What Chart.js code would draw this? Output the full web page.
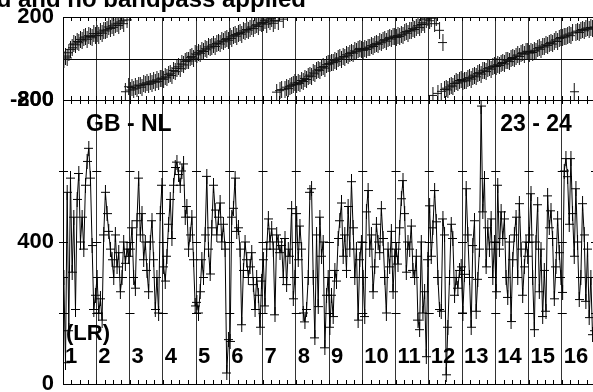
<!DOCTYPE html>
<html>
<head>
<meta charset="utf-8">
<script src="https://cdn.jsdelivr.net/npm/chart.js@4.4.1/dist/chart.umd.min.js"></script>
<style>
html,body{margin:0;padding:0;background:#fff;overflow:hidden;}
canvas{display:block;}
</style>
</head>
<body>
<canvas id="chart" width="600" height="392"></canvas>
<script>
const TITLE = "Calibrated and no bandpass applied";
const BASELINE = "GB - NL";
const ANTENNAS = "23 - 24";
const STOKES = "(LR)";
const ifLabels = ["1","2","3","4","5","6","7","8","9","10","11","12","13","14","15","16"];
const chansPerIF = 20;
const ampTicks = [0, 400, 800];
const ampMarks = [200, 400, 600];
const phaseTicks = [-200, 200];

// amplitude, 20 channels per IF
const amplitude = [
300,60,540,150,580,315,470,210,520,593,400,470,380,560,627,664,580,390,210,250,
300,200,240,180,420,540,480,430,380,350,300,420,330,370,260,300,400,340,380,360,
380,440,300,270,460,580,420,480,350,400,320,260,400,460,350,210,300,200,480,560,
330,290,360,450,520,410,560,610,625,590,560,600,620,470,500,380,420,470,350,220,
230,200,260,350,300,420,585,380,310,440,560,490,420,470,510,400,450,380,31,125,
120,470,495,580,430,440,380,167,320,400,350,300,330,370,280,210,300,250,160,290,
350,220,380,465,400,437,380,195,420,400,370,390,300,410,280,380,360,494,240,300,
480,350,445,380,200,175,210,300,540,550,300,130,420,218,470,360,400,102,250,300,
160,250,190,320,290,410,460,510,360,420,320,500,380,570,440,300,380,180,350,400,
300,190,485,545,380,420,260,330,450,400,370,494,410,300,200,380,330,430,260,360,
380,338,440,522,573,480,315,400,380,445,320,300,360,180,153,400,200,260,77,350,
502,360,440,545,457,300,210,205,465,420,26,160,300,450,410,250,300,270,320,330,
200,309,550,420,300,160,390,460,205,295,380,783,485,579,330,440,380,465,300,400,
260,560,380,485,410,465,300,244,400,176,350,420,470,300,508,380,250,330,400,360,
420,536,300,153,400,505,260,380,190,320,205,530,440,488,410,240,330,465,370,300,
258,600,635,584,450,635,480,360,550,400,238,300,508,420,233,380,187,300,139,150
];

// phase in degrees, 20 channels per IF
const phase = [
-4,12,3,28,44,52,70,66,82,76,92,85,99,104,93,110,106,100,120,112,
120,110,128,122,137,133,141,152,145,158,150,166,170,159,176,182,168,-160,186,-136,
-152,-140,-147,-133,-143,-128,-131,-138,-122,-126,-117,-124,-112,-119,-108,-114,-103,-110,-98,-94,
-100,-88,-93,-78,-71,-82,-58,-63,-47,-40,-49,-26,-31,-15,-8,-12,4,10,2,22,
18,30,25,38,34,47,42,56,51,60,66,58,72,79,70,85,81,92,96,88,
104,97,110,116,108,121,126,118,133,128,140,137,146,152,144,158,163,155,172,168,
174,182,166,186,177,192,170,184,-162,180,-155,-150,190,-147,-138,-145,-134,-129,-124,-118,
-126,-115,-120,-106,-111,-96,-101,-88,-80,-85,-69,-74,-60,-52,-57,-44,-38,-46,-30,-25,
-26,-17,-20,-9,-13,-2,3,-4,10,7,18,13,24,30,26,37,33,44,49,41,
40,48,44,55,51,62,58,67,73,69,80,76,86,91,84,96,102,94,108,104,
102,110,106,117,113,124,130,122,136,133,144,140,151,158,149,164,172,166,190,197,
182,194,-178,168,199,-168,136,-158,77,-149,-143,-151,-137,-128,-133,-120,-113,-118,-106,-101,
-112,-104,-108,-97,-92,-99,-85,-80,-88,-73,-68,-75,-60,-56,-63,-49,-44,-51,-39,-35,
-38,-30,-34,-24,-19,-26,-12,-8,-15,0,5,-2,12,17,10,24,28,21,35,32,
26,33,29,40,36,47,53,45,60,56,66,63,72,78,70,84,90,82,97,101,
100,108,104,113,118,110,123,-160,127,132,125,136,140,134,143,147,141,150,146,152
];

const FONT = "'Liberation Sans', Arial, sans-serif";

function toPoints(vals){
  return vals.map((v,i)=>({
    x: Math.floor(i/chansPerIF) + ((i%chansPerIF)+0.5)/chansPerIF,
    y: v
  }));
}

function crossImage(w,h,color){
  const c=document.createElement("canvas");
  c.width=w; c.height=h;
  const g=c.getContext("2d");
  g.strokeStyle=color; g.lineWidth=1;
  g.beginPath();
  g.moveTo(0,Math.floor(h/2)+0.5); g.lineTo(w,Math.floor(h/2)+0.5);
  g.moveTo(Math.floor(w/2)+0.5,0); g.lineTo(Math.floor(w/2)+0.5,h);
  g.stroke();
  return c;
}

const aipsFrame = {
  id:"aipsFrame",
  beforeDatasetsDraw(chart){
    const {ctx, scales:{x, yA, yP}} = chart;
    const seg=(x1,y1,x2,y2)=>{ctx.beginPath();ctx.moveTo(x1,y1);ctx.lineTo(x2,y2);ctx.stroke();};
    ctx.save();
    ctx.strokeStyle="#000"; ctx.lineWidth=1;
    [yP, yA].forEach(s=>{
      ctx.strokeRect(Math.round(x.left)+0.5, Math.round(s.top)+0.5, Math.round(x.right-x.left), Math.round(s.bottom-s.top));
    });
    const y0=Math.round(yP.getPixelForValue(0))+0.5;
    seg(x.left,y0,x.right,y0);
    for(let q=0;q<=ifLabels.length*4;q++){
      const px=Math.round(x.getPixelForValue(q/4))+0.5;
      [[yP.top,4],[yP.bottom,-4],[yA.top,4],[yA.bottom,-4]].forEach(([py,d])=>seg(px,Math.round(py),px,Math.round(py)+d));
    }
    for(let i=0;i<=ifLabels.length;i++){
      const px=x.getPixelForValue(i);
      ampMarks.forEach(v=>{
        const py=Math.round(yA.getPixelForValue(v))+0.5;
        seg(px-4,py,px+5,py);
      });
    }
    ctx.restore();
  },
  afterDraw(chart){
    const {ctx, scales:{x, yA}} = chart;
    ctx.save();
    ctx.fillStyle="#000";
    ctx.textBaseline="alphabetic";
    ctx.font="bold 24px "+FONT;
    ctx.textAlign="right";
    ctx.fillText(TITLE, 306, 7);
    ctx.font="bold 23px "+FONT;
    ctx.textAlign="left";
    ctx.fillText(BASELINE, x.left+23, yA.top+31);
    ctx.fillText(ANTENNAS, x.getPixelForValue(13)+5, yA.top+31);
    ctx.font="bold 22px "+FONT;
    ctx.fillText(STOKES, x.left+3, yA.bottom-44);
    ifLabels.forEach((lab,i)=>{
      ctx.fillText(lab, x.getPixelForValue(i)+2, yA.bottom-21);
    });
    ctx.restore();
  }
};

const tickFont={family:FONT,size:22,weight:"bold"};
const fitLeft=s=>{s.width=63;s.paddingTop=0;s.paddingBottom=0;};

new Chart(document.getElementById("chart"),{
  type:"scatter",
  data:{
    datasets:[
      {
        label:"Amplitude",
        data:toPoints(amplitude),
        yAxisID:"yA",
        showLine:true,
        borderColor:"#000",
        borderWidth:1,
        pointStyle:crossImage(9,15,"#000"),
        pointRadius:4
      },
      {
        label:"Phase",
        data:toPoints(phase),
        yAxisID:"yP",
        showLine:false,
        pointStyle:crossImage(9,17,"#111"),
        pointRadius:4
      }
    ]
  },
  options:{
    responsive:false,
    animation:false,
    events:[],
    layout:{padding:{top:17,right:4,bottom:8,left:0}},
    plugins:{legend:{display:false},tooltip:{enabled:false}},
    scales:{
      x:{
        type:"linear",min:0,max:16,
        afterBuildTicks:s=>{s.ticks=ifLabels.map((_,i)=>({value:i})).concat([{value:ifLabels.length}]);},
        ticks:{display:false},
        grid:{color:"#333",drawTicks:false},
        border:{display:false},
        afterFit:s=>{s.height=0;s.paddingLeft=0;s.paddingRight=0;}
      },
      yA:{
        type:"linear",position:"left",stack:"panels",stackWeight:284,
        min:0,max:800,
        afterBuildTicks:s=>{s.ticks=ampTicks.map(v=>({value:v}));},
        ticks:{font:tickFont,color:"#000",padding:9},
        grid:{display:false,drawTicks:false},
        border:{display:false},
        afterFit:fitLeft
      },
      yP:{
        type:"linear",position:"left",stack:"panels",stackWeight:83,
        min:-200,max:200,
        afterBuildTicks:s=>{s.ticks=phaseTicks.map(v=>({value:v}));},
        ticks:{font:tickFont,color:"#000",padding:9},
        grid:{display:false,drawTicks:false},
        border:{display:false},
        afterFit:fitLeft
      }
    }
  },
  plugins:[aipsFrame]
});
</script>
</body>
</html>
